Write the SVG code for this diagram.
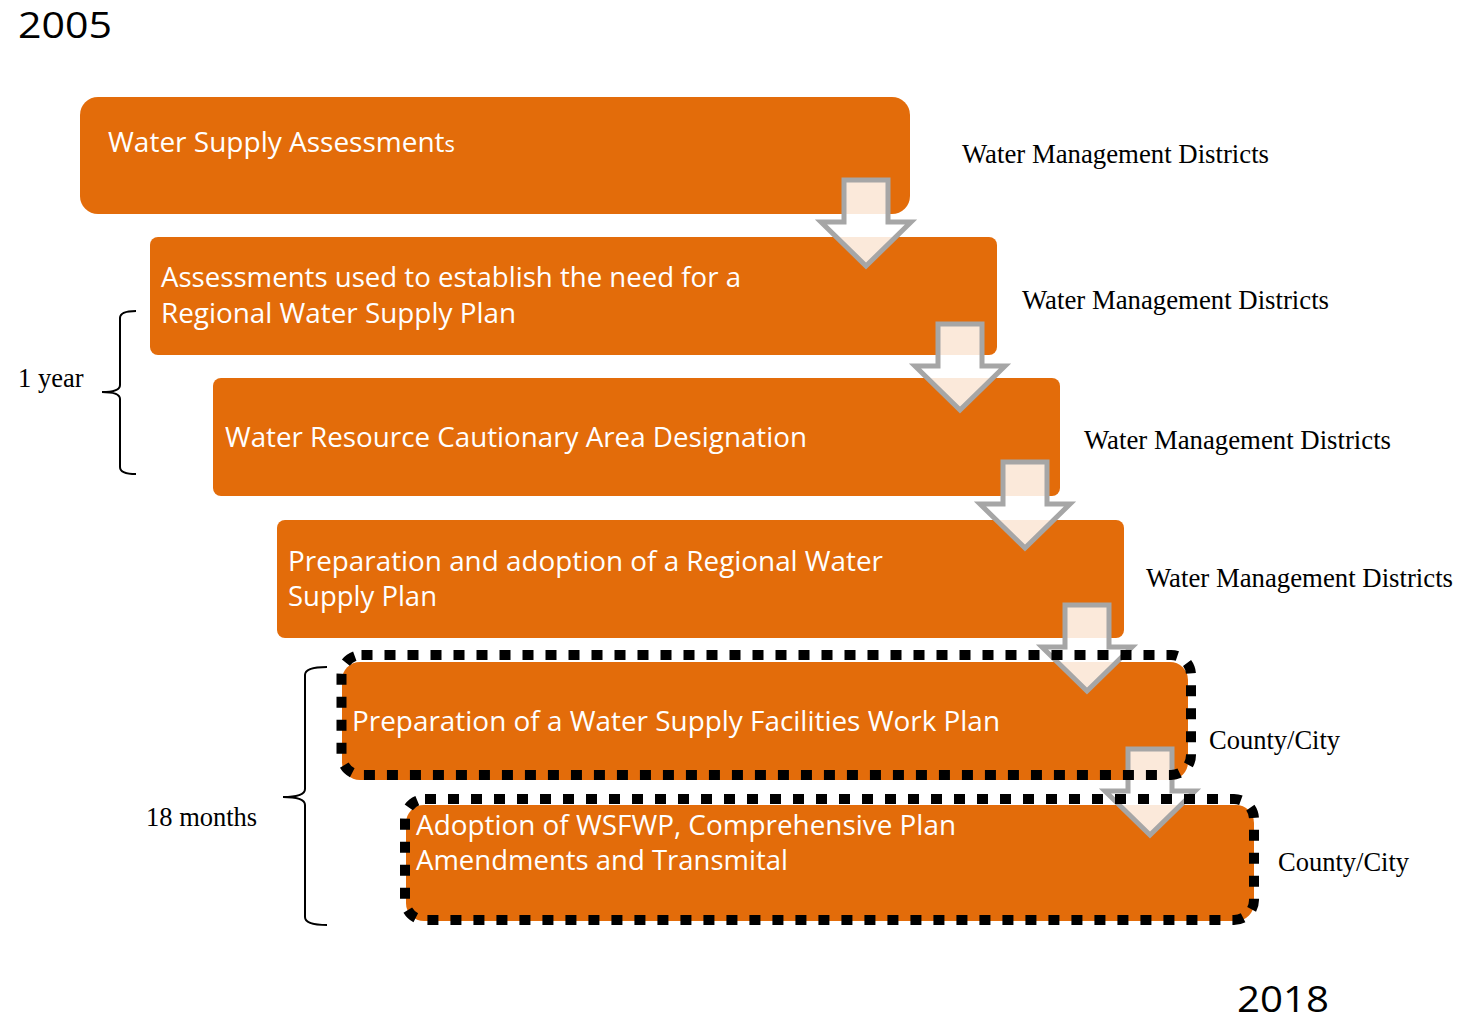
<svg xmlns="http://www.w3.org/2000/svg" width="1473" height="1024" viewBox="0 0 1473 1024">
<style>
.box{fill:#E36C0A}
.dots{fill:none;stroke:#000;stroke-width:10;stroke-dasharray:11 12}
.bt{font-family:"Open Sans","Noto Sans",sans-serif;font-size:27px;fill:#fff}
.rt{font-family:"Liberation Serif","Times New Roman",serif;font-size:26.5px;fill:#000}
.yr{font-family:"Open Sans","Noto Sans",sans-serif;font-size:36px;fill:#000}
.brace{fill:none;stroke:#000;stroke-width:2}
.arr{fill:#fff;fill-opacity:0.85;stroke:#A6A6A6;stroke-width:5}
</style>
<defs>
<path id="downArrow" class="arr" d="M-22,0 H22 V42 H45 L0,86 L-45,42 H-22 Z"/>
</defs>
<rect width="1473" height="1024" fill="#fff"/>
<text class="yr" x="18" y="38" textLength="94" lengthAdjust="spacingAndGlyphs">2005</text>
<text class="yr" x="1237" y="1012" textLength="92" lengthAdjust="spacingAndGlyphs">2018</text>

<g id="node1">
<rect class="box" x="80" y="97" width="830" height="117" rx="18"/>
<text class="bt" x="108" y="152" textLength="347" lengthAdjust="spacingAndGlyphs">Water Supply Assessment<tspan font-size="21">s</tspan></text>
</g>
<g id="node2">
<rect class="box" x="150" y="237" width="847" height="118" rx="8"/>
<text class="bt" x="161" y="287" textLength="580" lengthAdjust="spacingAndGlyphs">Assessments used to establish the need for a</text>
<text class="bt" x="161" y="323" textLength="355" lengthAdjust="spacingAndGlyphs">Regional Water Supply Plan</text>
</g>
<g id="node3">
<rect class="box" x="213" y="378" width="847" height="118" rx="8"/>
<text class="bt" x="225" y="447" textLength="582" lengthAdjust="spacingAndGlyphs">Water Resource Cautionary Area Designation</text>
</g>
<g id="node4">
<rect class="box" x="277" y="520" width="847" height="118" rx="8"/>
<text class="bt" x="288" y="571" textLength="595" lengthAdjust="spacingAndGlyphs">Preparation and adoption of a Regional Water</text>
<text class="bt" x="288" y="606" textLength="149" lengthAdjust="spacingAndGlyphs">Supply Plan</text>
</g>
<g id="node5">
<rect class="box" x="342" y="662" width="846" height="118" rx="18"/>
<text class="bt" x="352" y="731" textLength="648" lengthAdjust="spacingAndGlyphs">Preparation of a Water Supply Facilities Work Plan</text>
</g>
<g id="node6">
<rect class="box" x="406" y="805" width="848" height="116" rx="18"/>
<text class="bt" x="416" y="835" textLength="540" lengthAdjust="spacingAndGlyphs">Adoption of WSFWP, Comprehensive Plan</text>
<text class="bt" x="416" y="870" textLength="372" lengthAdjust="spacingAndGlyphs">Amendments and Transmital</text>
</g>

<g id="connectors">
<use href="#downArrow" x="866" y="180"/>
<use href="#downArrow" x="960" y="324"/>
<use href="#downArrow" x="1025" y="462"/>
<use href="#downArrow" x="1087" y="605"/>
<use href="#downArrow" x="1150" y="749"/>
</g>

<g id="dotted-frames">
<rect class="dots" x="341.5" y="655" width="849.5" height="120" rx="20"/>
<rect class="dots" x="405" y="799" width="849" height="121" rx="20"/>
</g>

<g id="labels">
<text class="rt" x="962" y="163" textLength="307" lengthAdjust="spacingAndGlyphs">Water Management Districts</text>
<text class="rt" x="1022" y="309" textLength="307" lengthAdjust="spacingAndGlyphs">Water Management Districts</text>
<text class="rt" x="1084" y="449" textLength="307" lengthAdjust="spacingAndGlyphs">Water Management Districts</text>
<text class="rt" x="1146" y="587" textLength="307" lengthAdjust="spacingAndGlyphs">Water Management Districts</text>
<text class="rt" x="1209" y="749">County/City</text>
<text class="rt" x="1278" y="871">County/City</text>
<text class="rt" x="18" y="387">1 year</text>
<text class="rt" x="146" y="826">18 months</text>
</g>

<g id="braces">
<path class="brace" d="M136,311 Q120,311 120,318 L120,385 Q120,392 102,392 Q120,392 120,399 L120,467 Q120,474 136,474"/>
<path class="brace" d="M327,667 Q305,667 305,675 L305,789 Q305,797 283,797 Q305,797 305,805 L305,917 Q305,925 327,925"/>
</g>
</svg>
